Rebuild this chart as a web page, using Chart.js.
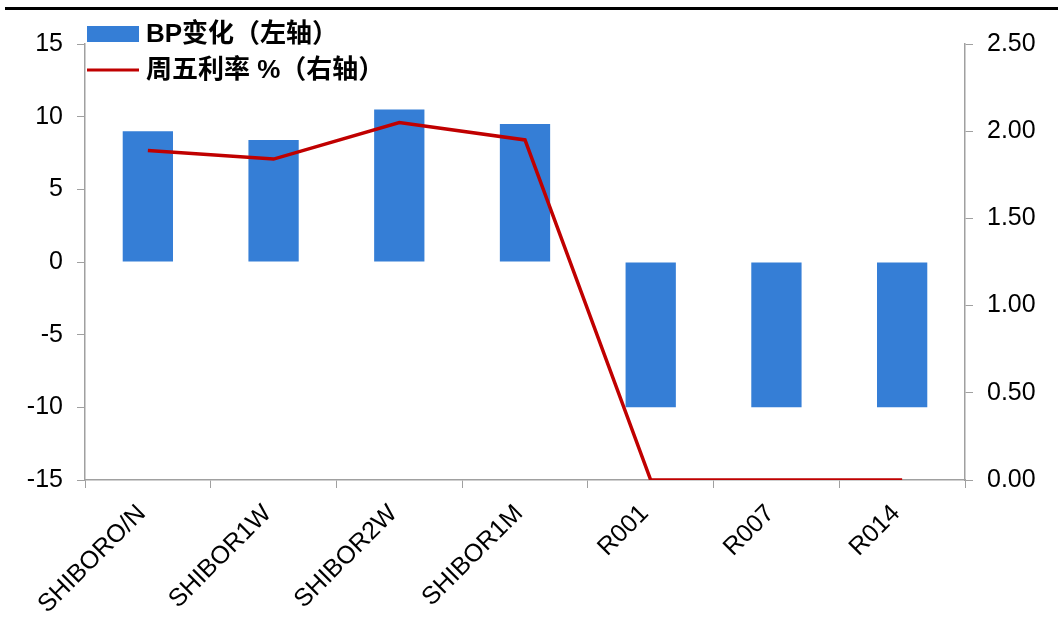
<!DOCTYPE html>
<html>
<head>
<meta charset="utf-8">
<script src="https://cdn.jsdelivr.net/npm/chart.js@4"></script>
<style>
  body { margin: 0; background: #fff; }
  canvas { display: block; }
</style>
</head>
<body>
<canvas id="chart" width="1058" height="643"></canvas>
<script>
// ── Data ─────────────────────────────────────────────────────────────────────
const categories = ['SHIBORO/N', 'SHIBOR1W', 'SHIBOR2W', 'SHIBOR1M', 'R001', 'R007', 'R014'];
const bpChange = [9, 8.4, 10.5, 9.5, -10, -10, -10];
const fridayRate = [1.89, 1.84, 2.05, 1.95, 0, 0, 0];
const barLabel = 'BP变化（左轴）';
const lineLabel = '周五利率 %（右轴）';

const BLUE = '#357ED6';
const RED = '#C00000';
const AXIS = '#A0A0A0';
const FONT = '"Liberation Sans", Arial, "Noto Sans CJK SC", sans-serif';

// ── Top rule + hand-drawn legend ────────────────────────────────────────────
const decor = {
  id: 'decor',
  afterDraw(chart) {
    const ctx = chart.ctx;
    ctx.save();
    ctx.fillStyle = '#000';
    ctx.fillRect(5, 7, 1053, 3);

    ctx.fillStyle = BLUE;
    ctx.fillRect(87, 26, 52, 16);
    ctx.strokeStyle = RED;
    ctx.lineWidth = 3;
    ctx.beginPath();
    ctx.moveTo(87, 70);
    ctx.lineTo(139, 70);
    ctx.stroke();

    ctx.fillStyle = '#000';
    ctx.font = 'bold 26px ' + FONT;
    ctx.textBaseline = 'middle';
    ctx.fillText(chart.data.datasets[1].label, 146, 35);
    ctx.fillText(chart.data.datasets[0].label, 146, 71);
    ctx.restore();
  }
};

new Chart(document.getElementById('chart'), {
  data: {
    labels: categories,
    datasets: [{
      type: 'line',
      label: lineLabel,
      data: fridayRate,
      yAxisID: 'y1',
      borderColor: RED,
      borderWidth: 3.5,
      pointRadius: 0,
      tension: 0,
      order: 0,
    }, {
      type: 'bar',
      label: barLabel,
      data: bpChange,
      yAxisID: 'y',
      backgroundColor: BLUE,
      barPercentage: 0.4,
      categoryPercentage: 1,
      order: 1,
    }]
  },
  options: {
    responsive: false,
    animation: false,
    layout: { padding: { top: 44 } },
    plugins: { legend: { display: false }, tooltip: { enabled: false } },
    scales: {
      x: {
        offset: true,
        grid: { offset: true, drawOnChartArea: false, tickLength: 8, color: AXIS },
        border: { color: AXIS, width: 1.5 },
        ticks: { color: '#000', font: { family: FONT, size: 25 }, minRotation: 45, maxRotation: 45,
                 padding: 11, labelOffset: -6 },
        afterFit: s => { s.height = 163; },
      },
      y: {
        position: 'left',
        min: -15, max: 15,
        grid: { drawOnChartArea: false, tickLength: 8, color: AXIS },
        border: { color: AXIS, width: 1.5 },
        ticks: { stepSize: 5, color: '#000', font: { family: FONT, size: 25 }, padding: 14 },
        afterFit: s => { s.width = 85; },
      },
      y1: {
        position: 'right',
        min: 0, max: 2.5,
        grid: { drawOnChartArea: false, tickLength: 8, color: AXIS },
        border: { color: AXIS, width: 1.5 },
        ticks: { stepSize: 0.5, color: '#000', font: { family: FONT, size: 25 }, padding: 14,
                 callback: v => v.toFixed(2) },
        afterFit: s => { s.width = 93; },
      }
    }
  },
  plugins: [decor]
});
</script>
</body>
</html>
